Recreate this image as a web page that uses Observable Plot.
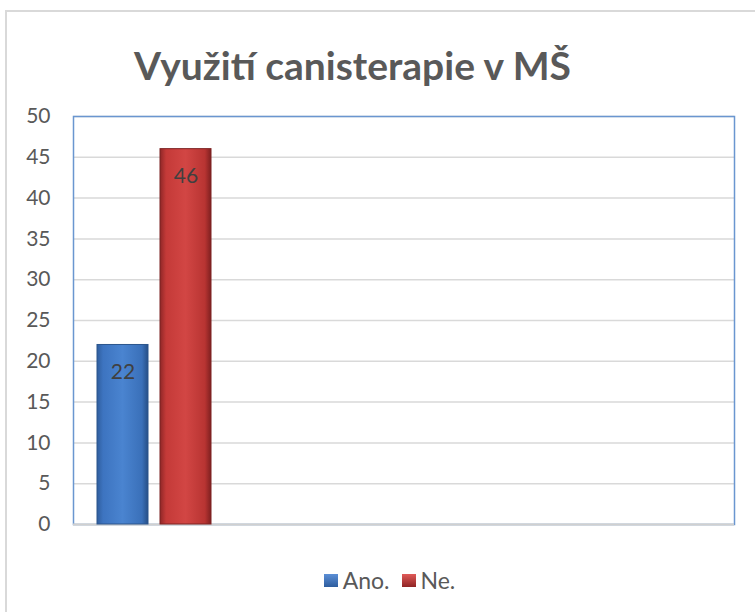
<!DOCTYPE html>
<html>
<head>
<meta charset="utf-8">
<script src="https://cdn.jsdelivr.net/npm/d3@7"></script>
<script src="https://cdn.jsdelivr.net/npm/@observablehq/plot@0.6"></script>
<style>
  html, body { margin: 0; padding: 0; background: #fff; width: 755px; height: 612px; overflow: hidden; }
  #frame { position: absolute; left: 5px; top: 10px; width: 800px; height: 700px; border-left: 2px solid #d9d9d9; border-top: 2px solid #d9d9d9; }
  #title { position: absolute; left: 0; width: 705px; top: 42px; text-align: center; font-family: Lato, sans-serif; font-weight: bold; font-size: 39px; color: #595959; white-space: nowrap; }
  #chart { position: absolute; left: 0; top: 0; }
  #legend { position: absolute; left: 12px; width: 755px; top: 566px; display: flex; justify-content: center; font-family: Lato, sans-serif; font-size: 23px; color: #595959; }
  .item { display: flex; align-items: center; margin: 0 6px; }
  .sw { width: 14px; height: 13px; margin-right: 5px; }
</style>
</head>
<body>
<div id="frame"></div>
<div id="chart"></div>
<div id="title">Využití canisterapie v MŠ</div>
<div id="legend"></div>
<script>
const categories = ["Ano.", "Ne."];
const values = [22, 46];
const gradients = ["url(#gBlue)", "url(#gRed)"];
const swatches = ["linear-gradient(#5b8fd6, #2e5d9e)", "linear-gradient(#e05a58, #8f2424)"];
const yTicks = [0, 5, 10, 15, 20, 25, 30, 35, 40, 45, 50];

const data = categories.map((c, i) => ({cat: c, val: values[i], grad: gradients[i]}));

const plot = Plot.plot({
  width: 755,
  height: 612,
  marginTop: 116,
  marginLeft: 73,
  marginRight: 21,
  marginBottom: 88,
  style: {fontFamily: "Lato, sans-serif", color: "#595959", background: "transparent"},
  x: {domain: categories, paddingInner: 0.1875, paddingOuter: 4.258, align: 0.044, axis: null},
  y: {domain: [0, 50]},
  color: {type: "identity"},
  marks: [
    Plot.gridY(yTicks, {stroke: "#d9d9d9", strokeOpacity: 1, strokeWidth: 1.5}),
    Plot.frame({stroke: "#6a96d0", strokeWidth: 1.5}),
    Plot.ruleY([0], {stroke: "#d0d0d0", strokeWidth: 2}),
    Plot.barY(data, {x: "cat", y: "val", fill: "grad", stroke: d => d.cat === "Ano." ? "#2b558c" : "#7d2222", strokeWidth: 1}),
    Plot.text(data, {x: "cat", y: "val", text: d => String(d.val), dy: 27, fontSize: 21, fill: "#404040"}),
    Plot.axisY({ticks: yTicks, tickSize: 0, tickPadding: 23, fontSize: 21, fill: "#595959", label: null})
  ]
});

const svg = d3.select(plot);
const defs = svg.insert("defs", ":first-child");
function grad(id, stops) {
  const g = defs.append("linearGradient").attr("id", id).attr("x1", "0").attr("x2", "1").attr("y1", "0").attr("y2", "0");
  stops.forEach(([o, c]) => g.append("stop").attr("offset", o).attr("stop-color", c));
}
grad("gBlue", [["0", "#2f5e9e"], ["0.12", "#3d74c0"], ["0.5", "#4a84d0"], ["0.88", "#3a70b9"], ["1", "#264f87"]]);
grad("gRed", [["0", "#8f2727"], ["0.12", "#c43a38"], ["0.5", "#d24644"], ["0.88", "#b83432"], ["1", "#7f2020"]]);

document.getElementById("chart").appendChild(plot);

const legend = document.getElementById("legend");
categories.forEach((c, i) => {
  const item = document.createElement("div");
  item.className = "item";
  const sw = document.createElement("div");
  sw.className = "sw";
  sw.style.background = swatches[i];
  const t = document.createElement("span");
  t.textContent = c;
  item.appendChild(sw);
  item.appendChild(t);
  legend.appendChild(item);
});
</script>
</body>
</html>
